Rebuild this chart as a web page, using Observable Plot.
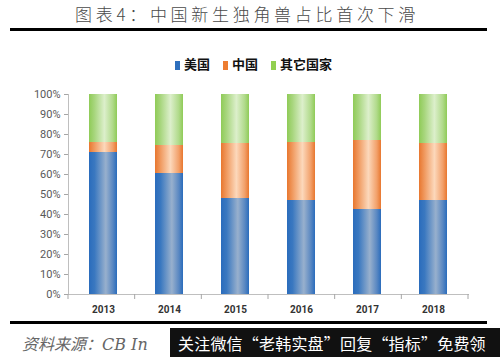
<!DOCTYPE html>
<html><head><meta charset="utf-8">
<script src="https://cdn.jsdelivr.net/npm/d3@7"></script>
<script src="https://cdn.jsdelivr.net/npm/@observablehq/plot@0.6"></script>
<style>
html,body{margin:0;padding:0;background:#fff;}
#wrap{position:relative;width:500px;height:357px;overflow:hidden;font-family:"Noto Sans CJK SC",sans-serif;}
#chart{position:absolute;left:0;top:0;}
.abs{position:absolute;white-space:nowrap;}
#title{left:0;width:494px;top:1px;text-align:center;font-size:17px;letter-spacing:3.7px;color:#4a4a4a;font-weight:300;}
.rule{position:absolute;left:10px;width:477px;height:3px;background:#000;}
#legend{top:54px;left:175px;font-size:13px;font-weight:bold;color:#111;}
#legend span.sw{display:inline-block;width:5px;height:9px;margin-right:4px;vertical-align:-1px;}
#legend span.it{margin-right:13px;}
#src{left:22px;top:331px;font-size:16px;font-style:italic;color:#666;font-family:"DejaVu Serif","Noto Sans CJK SC",serif;}
#box{left:170px;top:328px;width:330px;height:29px;background:#111;}
#boxt{left:178px;top:331px;font-size:16px;color:#fff;letter-spacing:0.2px;}
</style></head>
<body><div id="wrap">
<div id="chart"></div>
<div id="title" class="abs"></div>
<div class="rule" style="top:28px"></div>
<div id="legend" class="abs"></div>
<div class="rule" style="top:321px"></div>
<div id="src" class="abs"></div>
<div id="box" class="abs"></div>
<div id="boxt" class="abs"></div>
</div>
<script>
const titleText = "图表4：中国新生独角兽占比首次下滑";
const sourceText = "资料来源：CB In";
const bannerText = "关注微信“老韩实盘”回复“指标”免费领";
const years = ["2013","2014","2015","2016","2017","2018"];
const seriesNames = ["美国","中国","其它国家"];
const usValues = [71, 60.5, 48, 47, 42.5, 47];
const chinaValues = [5, 14, 27.5, 29, 34.5, 28.5];
const otherValues = [24, 25.5, 24.5, 24, 23, 24.5];
const yTicks = [0,10,20,30,40,50,60,70,80,90,100];
const legendColors = ["#2e6fbd","#ed7d31","#92d050"];

const table = years.flatMap((yr,i)=>[
  {year:yr, series:seriesNames[0], value:usValues[i]},
  {year:yr, series:seriesNames[1], value:chinaValues[i]},
  {year:yr, series:seriesNames[2], value:otherValues[i]}
]);

function bandTicks(index, scales, values, dims){
  const g = d3.create("svg:g");
  const n = years.length;
  const x0 = dims.marginLeft, x1 = dims.width - dims.marginRight;
  const yb = dims.height - dims.marginBottom;
  for(let i=0;i<=n;i++){
    const xx = x0 + (x1-x0)*i/n;
    g.append("line").attr("x1",xx).attr("x2",xx).attr("y1",yb).attr("y2",yb+5)
      .attr("stroke","#a6a6a6").attr("stroke-width",1);
  }
  return g.node();
}

const svg = Plot.plot({
  width: 500, height: 357,
  marginLeft: 68, marginRight: 32, marginTop: 94, marginBottom: 63,
  style:{fontFamily:"Roboto, 'Open Sans', sans-serif", background:"transparent"},
  x:{domain:years, paddingInner:0.58, paddingOuter:0.29, label:null},
  y:{domain:[0,100], label:null},
  color:{domain:seriesNames, range:["url(#gBlue)","url(#gOrange)","url(#gGreen)"]},
  marks:[
    Plot.barY(table, {x:"year", y:"value", fill:"series"}),
    Plot.frame({anchor:"left", stroke:"#bfbfbf"}),
    Plot.frame({anchor:"bottom", stroke:"#bfbfbf"}),
    Plot.axisY({ticks:yTicks, tickFormat:d=>d+"%", tickSize:4, tickPadding:4, stroke:"#a6a6a6", fill:"#595959", fontSize:11, label:null}),
    Plot.axisX({tickSize:0, tickPadding:11, fill:"#333", fontSize:10, fontWeight:"bold", label:null}),
    bandTicks
  ]
});
d3.select(svg).insert("defs", ":first-child").html(`
<linearGradient id="gBlue" x1="0" x2="1" y1="0" y2="0">
  <stop offset="0" stop-color="#2a6cbc"/><stop offset="0.2" stop-color="#3a78c0"/>
  <stop offset="0.6" stop-color="#98b0cd"/><stop offset="0.85" stop-color="#5a88c2"/>
  <stop offset="1" stop-color="#2a6cbc"/></linearGradient>
<linearGradient id="gOrange" x1="0" x2="1" y1="0" y2="0">
  <stop offset="0" stop-color="#e8772f"/><stop offset="0.2" stop-color="#f09a60"/>
  <stop offset="0.55" stop-color="#fcd8bb"/><stop offset="0.85" stop-color="#f2a06a"/>
  <stop offset="1" stop-color="#e8772f"/></linearGradient>
<linearGradient id="gGreen" x1="0" x2="1" y1="0" y2="0">
  <stop offset="0" stop-color="#8fcb57"/><stop offset="0.2" stop-color="#a8d67e"/>
  <stop offset="0.55" stop-color="#dcefcb"/><stop offset="0.85" stop-color="#b0da8a"/>
  <stop offset="1" stop-color="#8fcb57"/></linearGradient>`);
document.getElementById("chart").appendChild(svg);

document.getElementById("title").textContent = titleText;
document.getElementById("src").textContent = sourceText;
document.getElementById("boxt").textContent = bannerText;
const leg = d3.select("#legend");
seriesNames.forEach((s,i)=>{
  const it = leg.append("span").attr("class","it");
  it.append("span").attr("class","sw").style("background",legendColors[i]);
  it.append("span").text(s);
});
</script>
</body></html>
